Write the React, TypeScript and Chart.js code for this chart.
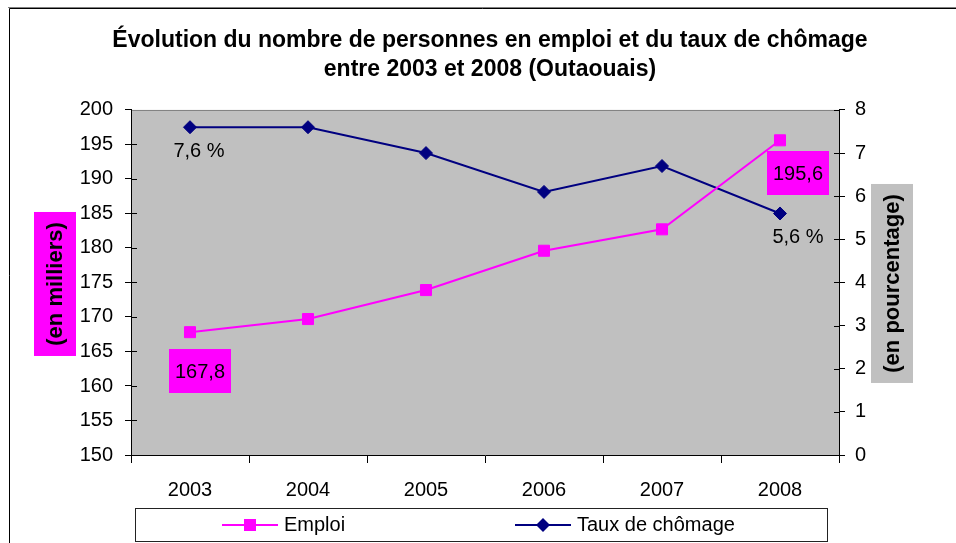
import React, { useEffect, useRef } from "react";
import { Chart, registerables } from "chart.js";

Chart.register(...registerables);

// ---------- data ----------
const categories = ["2003", "2004", "2005", "2006", "2007", "2008"];
const emploi = [167.8, 169.7, 173.9, 179.6, 182.7, 195.6];
const chomage = [7.6, 7.6, 7.0, 6.1, 6.7, 5.6];
const leftAxis = { min: 150, max: 200, step: 5 };
const rightAxis = { min: 0, max: 8, step: 1 };
const titleLines = [
  "Évolution du nombre de personnes en emploi et du taux de chômage",
  "entre 2003 et 2008 (Outaouais)",
];
const seriesNames = ["Emploi", "Taux de chômage"];
const leftTitle = "(en milliers)";
const rightTitle = "(en pourcentage)";
const emploiLabelIdx = [0, 5];
const chomageLabelIdx = [0, 5];

// ---------- styles ----------
const FONT = '"Liberation Sans", Arial, Helvetica, sans-serif';
const MAGENTA = "#FF00FF";
const NAVY = "#000080";
const PLOT_BG = "#C0C0C0";
const EMPLOI_LABEL_OFF = [
  { dx: 10, dy: 39 },
  { dx: 18, dy: 33 },
];
const CHOMAGE_LABEL_OFF = [
  { dx: 9, dy: 24 },
  { dx: 18, dy: 24 },
];
const LEGEND_BOX = { x: 135, y: 508, w: 692, h: 33 };
const LEGEND_ITEM_X = [222, 515];

function fmt(v: number) {
  return v.toFixed(1).replace(".", ",");
}

const decorPlugin = {
  id: "decor",
  beforeDraw(chart: any) {
    const { ctx, chartArea: ca, width, height } = chart;
    ctx.save();
    ctx.fillStyle = "#fff";
    ctx.fillRect(0, 0, width, height);
    // outer frame (top + left)
    ctx.strokeStyle = "#808080";
    ctx.lineWidth = 1;
    ctx.beginPath();
    ctx.moveTo(8, 7.5);
    ctx.lineTo(width, 7.5);
    ctx.stroke();
    ctx.strokeStyle = "#000";
    ctx.beginPath();
    ctx.moveTo(9.5, 8.5);
    ctx.lineTo(width, 8.5);
    ctx.moveTo(9.5, 8.5);
    ctx.lineTo(9.5, height);
    ctx.stroke();
    // plot area
    ctx.fillStyle = PLOT_BG;
    ctx.fillRect(ca.left, ca.top, ca.right - ca.left, ca.bottom - ca.top);
    ctx.strokeStyle = "#808080";
    ctx.beginPath();
    ctx.moveTo(ca.left, ca.top + 0.5);
    ctx.lineTo(ca.right, ca.top + 0.5);
    ctx.stroke();
    ctx.restore();
  },
  afterDatasetsDraw(chart: any) {
    const { ctx } = chart;
    ctx.save();
    ctx.font = `20px ${FONT}`;
    ctx.textAlign = "center";
    ctx.textBaseline = "middle";
    const m0 = chart.getDatasetMeta(0);
    emploiLabelIdx.forEach((idx, k) => {
      const p = m0.data[idx];
      const o = EMPLOI_LABEL_OFF[k];
      const cx = p.x + o.dx;
      const cy = p.y + o.dy;
      const txt = fmt(emploi[idx]);
      const w = ctx.measureText(txt).width + 12;
      const h = 44;
      ctx.fillStyle = MAGENTA;
      ctx.fillRect(Math.round(cx - w / 2), Math.round(cy - h / 2), Math.round(w), h);
      ctx.fillStyle = "#000";
      ctx.fillText(txt, cx, cy + 1);
    });
    const m1 = chart.getDatasetMeta(1);
    chomageLabelIdx.forEach((idx, k) => {
      const p = m1.data[idx];
      const o = CHOMAGE_LABEL_OFF[k];
      ctx.fillStyle = "#000";
      ctx.fillText(fmt(chomage[idx]) + " %", p.x + o.dx, p.y + o.dy);
    });
    ctx.restore();
  },
  afterDraw(chart: any) {
    const { ctx, chartArea: ca } = chart;
    ctx.save();
    // inner parts of y ticks
    ctx.strokeStyle = "#000";
    ctx.lineWidth = 1;
    const ys = chart.scales.y;
    const y1 = chart.scales.y1;
    ctx.beginPath();
    ys.ticks.forEach((_t: any, i: number) => {
      const py = Math.round(ys.getPixelForTick(i)) + 0.5;
      if (i === ys.ticks.length - 1) return;
      ctx.moveTo(ca.left, py);
      ctx.lineTo(ca.left + 6, py);
    });
    y1.ticks.forEach((_t: any, i: number) => {
      const py = Math.round(y1.getPixelForTick(i)) + 0.5;
      ctx.moveTo(ca.right, py);
      ctx.lineTo(ca.right - 5, py);
    });
    ctx.stroke();

    // axis titles with boxes
    const drawAxisTitle = (txt: string, cx: number, cy: number, bw: number, bh: number, bg: string) => {
      ctx.fillStyle = bg;
      ctx.fillRect(cx - bw / 2, cy - bh / 2, bw, bh);
      ctx.save();
      ctx.translate(cx, cy);
      ctx.rotate(-Math.PI / 2);
      ctx.font = `bold 22px ${FONT}`;
      ctx.textAlign = "center";
      ctx.textBaseline = "middle";
      ctx.fillStyle = "#000";
      ctx.fillText(txt, 0, 1);
      ctx.restore();
    };
    const midY = (ca.top + ca.bottom) / 2;
    drawAxisTitle(leftTitle, 55, midY + 1.5, 42, 144, MAGENTA);
    drawAxisTitle(rightTitle, 892, midY + 1, 42, 199, PLOT_BG);

    // legend
    const lb = LEGEND_BOX;
    ctx.strokeStyle = "#222";
    ctx.lineWidth = 1;
    ctx.strokeRect(lb.x + 0.5, lb.y + 0.5, lb.w, lb.h);
    const ly = lb.y + lb.h / 2 + 0.5;
    chart.data.datasets.forEach((ds: any, i: number) => {
      const x0 = LEGEND_ITEM_X[i];
      ctx.strokeStyle = ds.borderColor;
      ctx.lineWidth = 2;
      ctx.beginPath();
      ctx.moveTo(x0, ly);
      ctx.lineTo(x0 + 56, ly);
      ctx.stroke();
      ctx.fillStyle = ds.pointBackgroundColor;
      const mx = x0 + 28;
      ctx.beginPath();
      if (ds.pointStyle === "rect") {
        ctx.rect(mx - 6, ly - 6, 12, 12);
      } else {
        ctx.moveTo(mx - 7, ly);
        ctx.lineTo(mx, ly - 7);
        ctx.lineTo(mx + 7, ly);
        ctx.lineTo(mx, ly + 7);
        ctx.closePath();
      }
      ctx.fill();
      ctx.fillStyle = "#000";
      ctx.font = `20px ${FONT}`;
      ctx.textAlign = "left";
      ctx.textBaseline = "middle";
      ctx.fillText(ds.label, x0 + 62, ly);
    });
    ctx.restore();
  },
};

export default function App() {
  const ref = useRef<HTMLCanvasElement | null>(null);
  useEffect(() => {
    document.body.style.margin = "0";
    if (!ref.current) return;
    const chart = new Chart(ref.current, {
      type: "line",
      data: {
        labels: categories,
        datasets: [
          {
            label: seriesNames[0],
            data: emploi,
            yAxisID: "y",
            borderColor: MAGENTA,
            backgroundColor: MAGENTA,
            pointBackgroundColor: MAGENTA,
            pointBorderColor: MAGENTA,
            pointStyle: "rect",
            pointRadius: 7.8,
            pointBorderWidth: 1,
            borderWidth: 2,
            tension: 0,
          },
          {
            label: seriesNames[1],
            data: chomage,
            yAxisID: "y1",
            borderColor: NAVY,
            backgroundColor: NAVY,
            pointBackgroundColor: NAVY,
            pointBorderColor: NAVY,
            pointStyle: "rectRot",
            pointRadius: 6.5,
            pointBorderWidth: 1,
            borderWidth: 2,
            tension: 0,
          },
        ],
      },
      options: {
        animation: false,
        responsive: false,
        layout: { padding: { left: 24, right: 0, top: 0, bottom: 0 } },
        plugins: {
          legend: { display: false },
          tooltip: { enabled: false },
          title: {
            display: true,
            fullSize: true,
            text: titleLines,
            color: "#000",
            font: { family: FONT, size: 23, weight: "bold", lineHeight: 1.26 },
            padding: { top: 26.5, bottom: 25.5 },
          },
        },
        scales: {
          x: {
            type: "category",
            offset: true,
            grid: {
              offset: true,
              drawOnChartArea: false,
              drawTicks: true,
              tickLength: 8,
              color: "#000",
            },
            border: { color: "#000", width: 1 },
            ticks: {
              color: "#000",
              font: { family: FONT, size: 20 },
              padding: 15,
              maxRotation: 0,
            },
            afterFit(scale: any) {
              scale.height = 88;
            },
          },
          y: {
            type: "linear",
            position: "left",
            min: leftAxis.min,
            max: leftAxis.max,
            ticks: {
              stepSize: leftAxis.step,
              color: "#000",
              font: { family: FONT, size: 20 },
              padding: 12,
            },
            grid: { drawOnChartArea: false, tickLength: 6, color: "#000" },
            border: { color: "#000", width: 1 },
            afterFit(scale: any) {
              scale.width = 107;
            },
          },
          y1: {
            type: "linear",
            position: "right",
            min: rightAxis.min,
            max: rightAxis.max,
            ticks: {
              stepSize: rightAxis.step,
              color: "#000",
              font: { family: FONT, size: 20 },
              padding: 10,
            },
            grid: { drawOnChartArea: false, tickLength: 6, color: "#000" },
            border: { color: "#000", width: 1 },
            afterFit(scale: any) {
              scale.width = 117;
            },
          },
        },
      },
      plugins: [decorPlugin],
    });
    return () => chart.destroy();
  }, []);
  return (
    <div style={{ width: 956, height: 543 }}>
      <canvas ref={ref} width={956} height={543} style={{ display: "block" }} />
    </div>
  );
}
